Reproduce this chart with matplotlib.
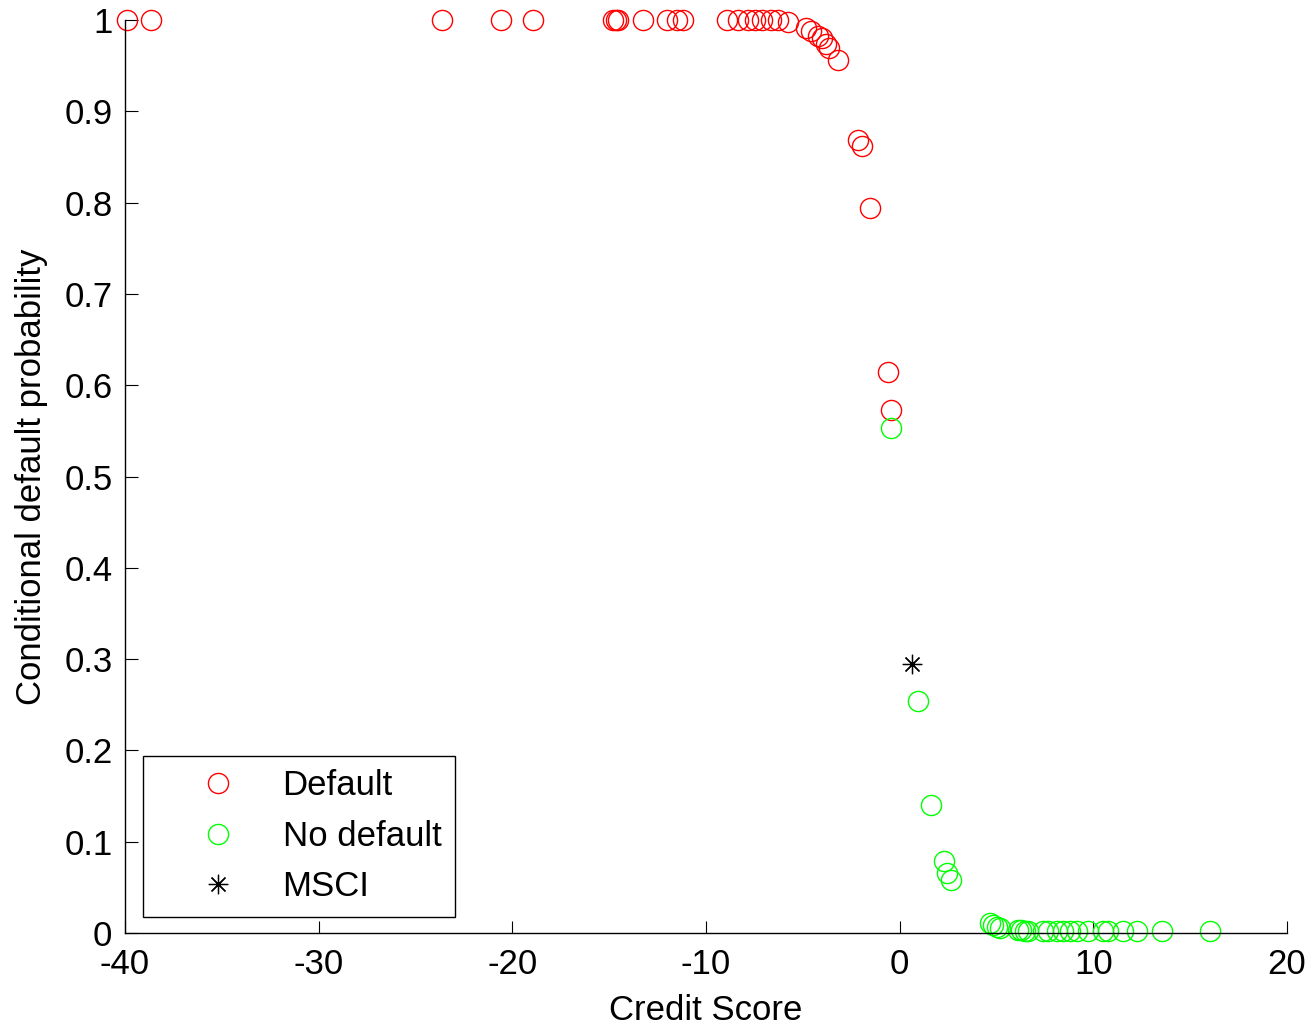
import matplotlib
matplotlib.use("Agg")
import matplotlib.pyplot as plt

plt.rcParams['font.family'] = ['Liberation Sans', 'DejaVu Sans']
plt.rcParams['axes.unicode_minus'] = False

# Credit scores and conditional default probabilities for defaulted firms
default_score = [-39.9, -38.66, -23.63, -20.59, -18.94,
                 -14.79, -14.65, -14.53, -13.24, -12.03, -11.49, -11.21,
                 -8.89, -8.34, -7.82, -7.48, -7.13, -6.65, -6.29, -5.76,
                 -4.84, -4.58, -4.22, -4.01, -3.80, -3.65, -3.19,
                 -2.16, -1.95, -1.54, -0.61, -0.45]
default_prob = [1.0, 1.0, 1.0, 1.0, 1.0,
                1.0, 1.0, 1.0, 1.0, 1.0, 1.0, 1.0,
                1.0, 1.0, 1.0, 1.0, 1.0, 1.0, 1.0, 0.998,
                0.991, 0.988, 0.983, 0.980, 0.974, 0.969, 0.956,
                0.869, 0.862, 0.794, 0.614, 0.573]

# Firms that did not default
nodefault_score = [-0.45, 0.94, 1.61, 2.28, 2.44, 2.64,
                   4.66, 4.81, 5.02, 5.17, 6.10, 6.26, 6.46, 6.62,
                   7.39, 7.65, 8.12, 8.43, 8.79, 9.15, 9.72,
                   10.49, 10.75, 11.52, 12.25, 13.54, 16.01]
nodefault_prob = [0.553, 0.254, 0.140, 0.079, 0.066, 0.058,
                  0.011, 0.009, 0.007, 0.005, 0.003, 0.003, 0.002, 0.002,
                  0.002, 0.002, 0.002, 0.002, 0.002, 0.002, 0.002,
                  0.002, 0.002, 0.002, 0.002, 0.002, 0.002]

# MSCI
msci_score = [0.63]
msci_prob = [0.295]

x_ticks = [-40, -30, -20, -10, 0, 10, 20]
y_ticks = [0, 0.1, 0.2, 0.3, 0.4, 0.5, 0.6, 0.7, 0.8, 0.9, 1]
y_tick_labels = ['0', '0.1', '0.2', '0.3', '0.4', '0.5', '0.6', '0.7', '0.8', '0.9', '1']

fs = 25

fig = plt.figure(figsize=(13.1, 10.27), dpi=100)
ax = fig.add_axes([0.0954, 0.0915, 0.887, 0.889])

ms = 14.5
ax.plot(default_score, default_prob, linestyle='none', marker='o', ms=ms,
        mfc='none', mec=(1, 0, 0), mew=1.0, label='Default', clip_on=False)
ax.plot(nodefault_score, nodefault_prob, linestyle='none', marker='o', ms=ms,
        mfc='none', mec=(0, 1, 0), mew=1.0, label='No default', clip_on=False)
ax.plot(msci_score, msci_prob, linestyle='none', marker=(8, 2, 0), ms=14,
        mfc='none', mec='black', mew=0.9, label='MSCI', clip_on=False)

ax.set_xlim(-40, 20)
ax.set_ylim(0, 1)
ax.set_xticks(x_ticks)
ax.set_yticks(y_ticks)
ax.set_yticklabels(y_tick_labels)

for side in ('top', 'right'):
    ax.spines[side].set_visible(False)
for side in ('left', 'bottom'):
    ax.spines[side].set_linewidth(1.0)
    ax.spines[side].set_color('black')

ax.tick_params(direction='in', length=9, width=0.8, labelsize=fs)
ax.tick_params(axis='x', pad=11)
ax.tick_params(axis='y', pad=9)

ax.set_xlabel('Credit Score', fontsize=fs, labelpad=9)
ax.set_ylabel('Conditional default probability', fontsize=fs, labelpad=12)

leg = ax.legend(loc='lower left', bbox_to_anchor=(0.0155, 0.0175),
                borderaxespad=0, fancybox=False, framealpha=1,
                edgecolor='black', fontsize=fs, handlelength=3.5,
                handletextpad=0.12, labelspacing=0.5, borderpad=0.4)
leg.get_frame().set_linewidth(1.0)

fig.savefig('out.png', dpi=100)
